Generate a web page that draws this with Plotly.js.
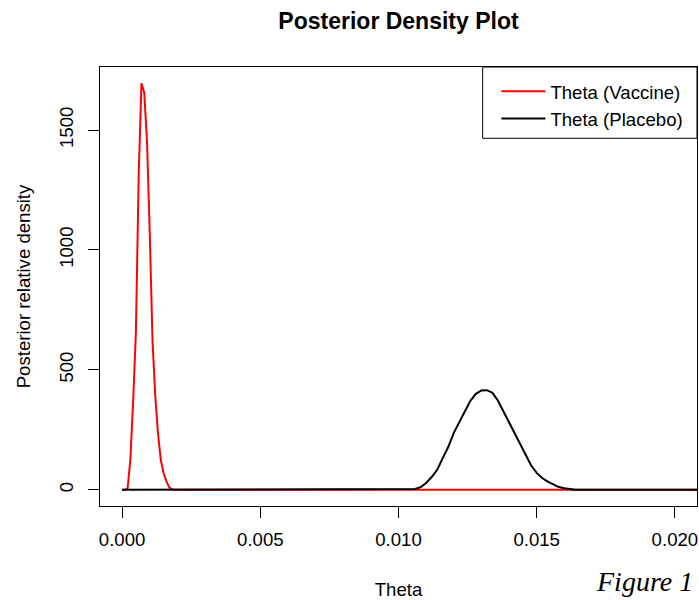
<!DOCTYPE html>
<html>
<head>
<meta charset="utf-8">
<script src="https://cdn.plot.ly/plotly-3.0.1.min.js"></script>
<style>html,body{margin:0;padding:0;background:#fff;}#chart{width:699px;height:600px;}</style>
</head>
<body>
<div id="chart"></div>
<script>
// Theta (Vaccine) posterior density
const vaccineTheta = [0, 0.0001, 0.0002, 0.0003, 0.0004, 0.0005, 0.0006, 0.0007, 0.0008, 0.0009, 0.0010,
  0.0011, 0.0012, 0.0013, 0.0014, 0.0015, 0.0016, 0.0017, 0.0018, 0.0019, 0.0215];
const vaccineDensity = [0, 0, 7, 128, 370, 662, 1309, 1695, 1657, 1456, 1072,
  621, 391, 233, 124, 70, 36, 11, 2, 0, 0];

// Theta (Placebo) posterior density
const placeboTheta = [0, 0.0104, 0.0106, 0.0108, 0.0110, 0.0112, 0.0114, 0.0116, 0.0118, 0.0120, 0.0122,
  0.0124, 0.0126, 0.0128, 0.0130, 0.0132, 0.0134, 0.0136, 0.0138, 0.0140, 0.0142,
  0.0144, 0.0146, 0.0148, 0.0150, 0.0152, 0.0154, 0.0156, 0.0158, 0.0160, 0.0162, 0.0164, 0.0215];
const placeboDensity = [0, 0, 3, 11, 28, 53, 83, 132, 178, 237, 283,
  329, 371, 400, 414, 415, 404, 371, 325, 283, 233,
  187, 141, 101, 70, 49, 34, 22, 11, 6, 3, 0, 0];

const xTicks = [0, 0.005, 0.010, 0.015, 0.020];
const yTicks = [0, 500, 1000, 1500];
const seriesNames = ["Theta (Vaccine)", "Theta (Placebo)"];

const FONT = "Liberation Sans, Arial, sans-serif";

const traces = [
  {x: vaccineTheta, y: vaccineDensity, type: "scatter", mode: "lines", name: seriesNames[0],
   line: {color: "#FF0000", width: 2}},
  {x: placeboTheta, y: placeboDensity, type: "scatter", mode: "lines", name: seriesNames[1],
   line: {color: "#000000", width: 2}}
];

const layout = {
  width: 699, height: 600,
  margin: {l: 100, r: 2, t: 67, b: 94},
  paper_bgcolor: "#fff", plot_bgcolor: "#fff",
  font: {family: FONT, size: 18.6, color: "#000"},
  title: {text: "<b>Posterior Density Plot</b>", font: {family: FONT, size: 23, color: "#000"},
          x: 0.5, xref: "paper", y: 0.965, yanchor: "middle"},
  xaxis: {
    range: [-0.0008, 0.0208], tickvals: xTicks, tickformat: ".3f",
    showgrid: false, zeroline: false, showline: true, mirror: true, linecolor: "#000", linewidth: 1,
    ticks: "outside", ticklen: 11, tickwidth: 1, tickcolor: "#000", ticklabelstandoff: 6,
    tickfont: {family: FONT, size: 18.6, color: "#000"},
    title: {text: "Theta", font: {family: FONT, size: 18.6, color: "#000"}, standoff: 34}
  },
  yaxis: {
    range: [-67.8, 1762.8], tickvals: yTicks, tickangle: -90,
    showgrid: false, zeroline: false, showline: true, mirror: true, linecolor: "#000", linewidth: 1,
    ticks: "outside", ticklen: 11, tickwidth: 1, tickcolor: "#000", ticklabelstandoff: 8,
    tickfont: {family: FONT, size: 18.6, color: "#000"},
    title: {text: "Posterior relative density", font: {family: FONT, size: 18.6, color: "#000"}, standoff: 20}
  },
  showlegend: true,
  legend: {x: 0.664, y: 0.987, xanchor: "left", yanchor: "top", bgcolor: "rgba(0,0,0,0)",
           borderwidth: 0, itemwidth: 44, font: {family: FONT, size: 18.6, color: "#000"}},
  shapes: [
    {type: "rect", xref: "paper", yref: "paper", x0: 0.641, x1: 1, y0: 0.8376, y1: 1,
     line: {color: "#000", width: 1}, fillcolor: "rgba(0,0,0,0)"}
  ],
  annotations: [
    {text: "<i>Figure 1</i>", xref: "paper", yref: "paper", x: 0.9966, y: -0.172,
     xanchor: "right", yanchor: "middle", showarrow: false,
     font: {family: "Liberation Serif, Times New Roman, serif", size: 28, color: "#000"}}
  ]
};

Plotly.newPlot("chart", traces, layout, {displayModeBar: false, staticPlot: true});
</script>
</body>
</html>
